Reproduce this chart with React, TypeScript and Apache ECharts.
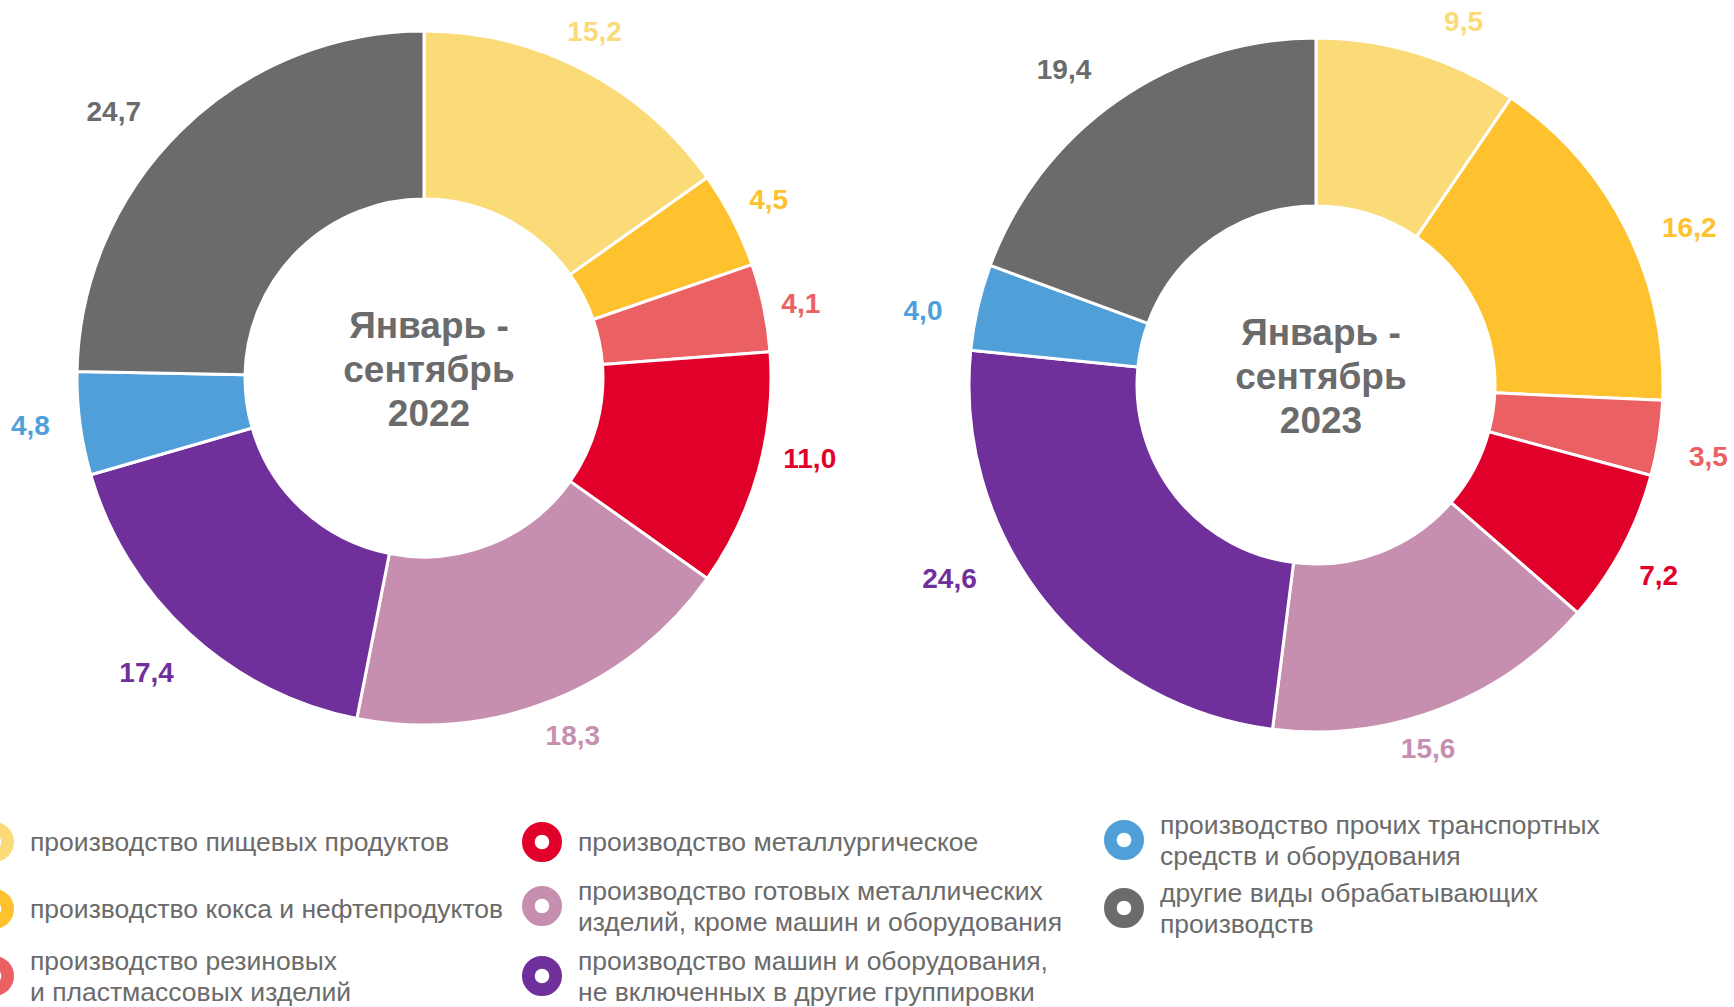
import React, { useEffect, useRef } from "react";
import * as echarts from "echarts";

const categories = [
  "производство пищевых продуктов",
  "производство кокса и нефтепродуктов",
  "производство резиновых и пластмассовых изделий",
  "производство металлургическое",
  "производство готовых металлических изделий, кроме машин и оборудования",
  "производство машин и оборудования, не включенных в другие группировки",
  "производство прочих транспортных средств и оборудования",
  "другие виды обрабатывающих производств",
];

const legendTexts = [
  "производство пищевых продуктов",
  "производство кокса и нефтепродуктов",
  "производство резиновых\nи пластмассовых изделий",
  "производство металлургическое",
  "производство готовых металлических\nизделий, кроме машин и оборудования",
  "производство машин и оборудования,\nне включенных в другие группировки",
  "производство прочих транспортных\nсредств и оборудования",
  "другие виды обрабатывающих\nпроизводств",
];

const values2022 = [15.2, 4.5, 4.1, 11.0, 18.3, 17.4, 4.8, 24.7];
const values2023 = [9.5, 16.2, 3.5, 7.2, 15.6, 24.6, 4.0, 19.4];

const centerTitles = ["Январь -\nсентябрь\n2022", "Январь -\nсентябрь\n2023"];

const colors = [
  "#FBDB78",
  "#FDC22E",
  "#EA6063",
  "#E1002A",
  "#C68FAF",
  "#70309B",
  "#519FD9",
  "#6B6B6B",
];

// small manual nudges of value labels (style), [dx, dy] in px
const labelNudge2022: [number, number][] = [
  [-10, 3], [-5, 1], [-8, 5], [7, -24], [3, -7], [-12, 5], [-4, -4], [-35, 14],
];
const labelNudge2023: [number, number][] = [
  [32, 12], [22, 19], [4, 11], [-4, 6], [-28, -4], [-59, -51], [-10, 14], [-27, 7],
];

const FONT = 'Arial, "Liberation Sans", sans-serif';
const GREY = "#6B6B6B";
const RING =
  "path://M0,-20A20,20 0 1,1 0,20A20,20 0 1,1 0,-20ZM0,-6A6,6 0 1,0 0,6A6,6 0 1,0 0,-6Z";

// legend placement: [left, top] per category
const legendPos: [number, number][] = [
  [-28, 820],
  [-28, 945],
  [-28, 945],
  [520, 820],
  [520, 875],
  [520, 945],
  [1102, 809],
  [1102, 877],
];
legendPos[1] = [-28, 887];

function App() {
  const ref = useRef<HTMLDivElement>(null);

  useEffect(() => {
    if (!ref.current) return;
    document.body.style.margin = "0";
    const chart = echarts.init(ref.current, undefined, { renderer: "svg" });

    const centers: [number, number][] = [
      [424, 378],
      [1316, 385],
    ];
    const years = [values2022, values2023];
    const nudges = [labelNudge2022, labelNudge2023];

    const series: any[] = [];
    years.forEach((vals, yi) => {
      series.push({
        type: "pie",
        center: centers[yi],
        radius: [179, 347],
        startAngle: 90,
        clockwise: true,
        avoidLabelOverlap: false,
        label: { show: false },
        labelLine: { show: false },
        emphasis: { disabled: true },
        itemStyle: { borderColor: "#ffffff", borderWidth: 3 },
        data: categories.map((name, i) => ({
          name,
          value: vals[i],
          itemStyle: { color: colors[i] },
        })),
      });
    });
    years.forEach((vals, yi) => {
      series.push({
        type: "pie",
        center: centers[yi],
        radius: [347, 433],
        startAngle: 90,
        clockwise: true,
        silent: true,
        legendHoverLink: false,
        avoidLabelOverlap: false,
        emphasis: { disabled: true },
        labelLine: { show: false },
        itemStyle: { color: "rgba(0,0,0,0)", borderWidth: 0 },
        label: {
          show: true,
          position: "inside",
          fontFamily: FONT,
          fontSize: 28,
          fontWeight: "bold",
          formatter: (p: any) => p.value.toFixed(1).replace(".", ","),
        },
        labelLayout: (p: any) => ({
          dx: nudges[yi][p.dataIndex][0],
          dy: nudges[yi][p.dataIndex][1],
        }),
        data: categories.map((name, i) => ({
          name,
          value: vals[i],
          label: { color: colors[i] },
        })),
      });
    });

    const legends = categories.map((name, i) => ({
      show: true,
      orient: "vertical",
      left: legendPos[i][0],
      top: legendPos[i][1],
      padding: 0,
      data: [name],
      icon: RING,
      itemWidth: 42,
      itemHeight: 42,
      selectedMode: false,
      formatter: () => legendTexts[i],
      textStyle: {
        fontFamily: FONT,
        fontSize: 26.5,
        lineHeight: 31,
        color: GREY,
        padding: [0, 0, 0, 10],
      },
    }));

    chart.setOption({
      animation: false,
      backgroundColor: "#ffffff",
      tooltip: { show: false },
      legend: legends,
      series,
      graphic: centerTitles.map((t, i) => ({
        type: "text",
        x: centers[i][0] + 5,
        y: centers[i][1] - 9,
        silent: true,
        style: {
          text: t,
          fill: GREY,
          fontFamily: FONT,
          fontSize: 37,
          fontWeight: "bold",
          lineHeight: 44,
          align: "center",
          verticalAlign: "middle",
        },
      })),
    });

    return () => chart.dispose();
  }, []);

  return (
    <div style={{ position: "fixed", left: 0, top: 0, width: 1734, height: 1007 }}>
      <div ref={ref} style={{ width: 1734, height: 1007, background: "#ffffff" }} />
    </div>
  );
}

export default App;
